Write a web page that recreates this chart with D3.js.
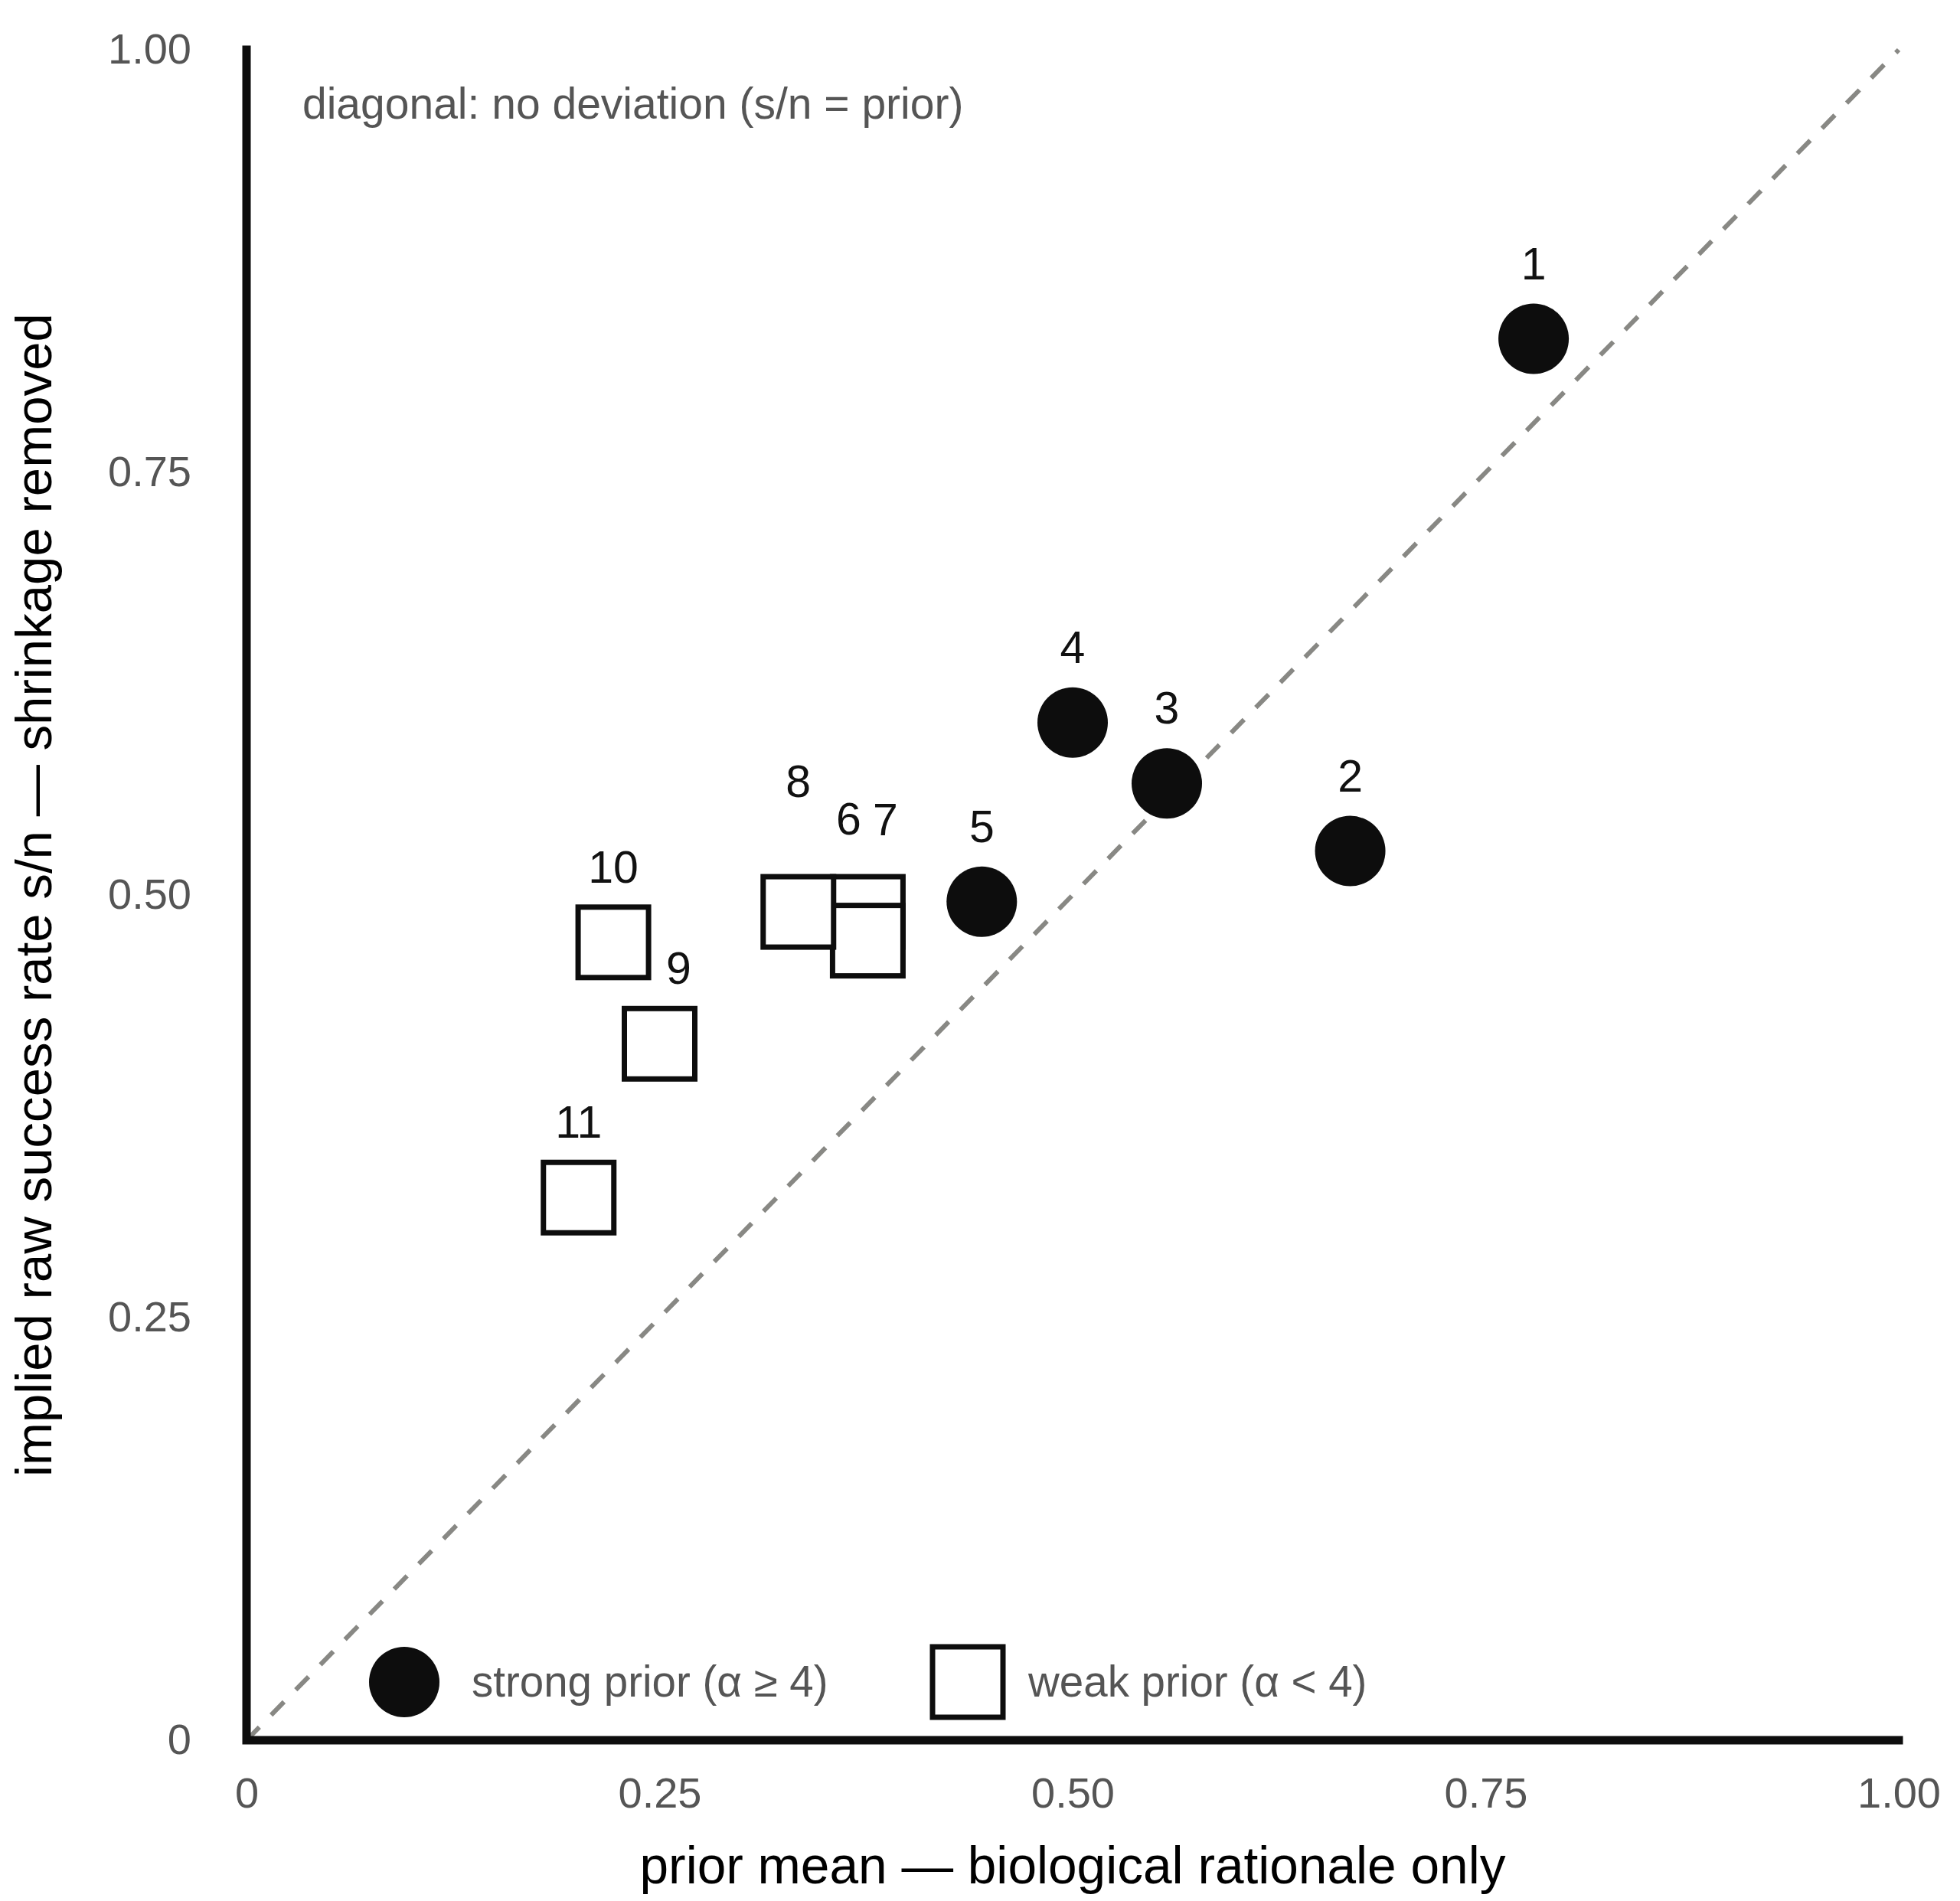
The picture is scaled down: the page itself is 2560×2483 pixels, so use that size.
<!DOCTYPE html>
<html>
<head>
<meta charset="utf-8">
<script src="https://cdn.jsdelivr.net/npm/d3@7"></script>
<style>
  body { margin: 0; background: #fff; }
  text { font-family: "Liberation Sans", Arial, sans-serif; }
</style>
</head>
<body>
<svg width="2560" height="2483"></svg>
<script>
// one entry per candidate
var ids = ["1", "2", "3", "4", "5", "6", "7", "8", "9", "10", "11"];
var priorMean = [0.779, 0.668, 0.557, 0.500, 0.445, 0.376, 0.376, 0.334, 0.250, 0.222, 0.201];
var rawRate = [0.829, 0.526, 0.566, 0.602, 0.496, 0.490, 0.473, 0.490, 0.412, 0.472, 0.321];
var priorStrength = ["strong", "strong", "strong", "strong", "strong", "weak", "weak", "weak", "weak", "weak", "weak"];
var tickValues = [0, 0.25, 0.5, 0.75, 1];
var tickLabels = ["0", "0.25", "0.50", "0.75", "1.00"];

// label nudges (px) so overlapping labels stay readable
var labelNudge = {"6": [-25, -23], "7": [23, -60], "8": [0, -72], "9": [25, 0]};

var svg = d3.select("svg"),
    margin = {top: 65, right: 80, bottom: 210, left: 322},
    width = svg.attr("width") - margin.left - margin.right,
    height = svg.attr("height") - margin.top - margin.bottom,
    g = svg.append("g").attr("transform", "translate(" + margin.left + "," + margin.top + ")");

var x = d3.scaleLinear().domain([0, 1]).range([0, width]),
    y = d3.scaleLinear().domain([0, 1]).range([height, 0]);

var data = ids.map(function(id, i) {
  return {id: id, prior: priorMean[i], raw: rawRate[i], strength: priorStrength[i]};
});

var grey = "#555",
    ink = "#0d0d0d",
    r = 46,
    side = 92;

// tick labels only, no tick marks
g.append("g")
    .attr("transform", "translate(0," + height + ")")
    .call(d3.axisBottom(x).tickValues(tickValues).tickSize(0).tickPadding(48)
      .tickFormat(function(d, i) { return tickLabels[i]; }))
    .call(function(a) {
      a.select(".domain").remove();
      a.selectAll("text").attr("font-size", 56).attr("fill", grey)
        .attr("font-family", "Liberation Sans, Arial, sans-serif");
    });

g.append("g")
    .call(d3.axisLeft(y).tickValues(tickValues).tickSize(0).tickPadding(72)
      .tickFormat(function(d, i) { return tickLabels[i]; }))
    .call(function(a) {
      a.select(".domain").remove();
      a.selectAll("text").attr("font-size", 56).attr("fill", grey)
        .attr("font-family", "Liberation Sans, Arial, sans-serif");
    });

// no-deviation diagonal
g.append("line")
    .attr("x1", x(0)).attr("y1", y(0))
    .attr("x2", x(1)).attr("y2", y(1))
    .attr("stroke", "#888884")
    .attr("stroke-width", 6)
    .attr("stroke-dasharray", "24,22");

// axes as one L shaped path
g.append("path")
    .attr("d", "M" + x(0) + "," + y(1) + "V" + y(0) + "H" + x(1))
    .attr("fill", "none")
    .attr("stroke", ink)
    .attr("stroke-width", 11)
    .attr("stroke-linecap", "square");

g.append("text")
    .attr("x", 73)
    .attr("y", 90)
    .attr("font-size", 57)
    .attr("fill", grey)
    .text("diagonal: no deviation (s/n = prior)");

var pts = g.selectAll(".pt")
  .data(data)
  .enter().append("g")
    .attr("class", "pt")
    .attr("transform", function(d) { return "translate(" + x(d.prior) + "," + y(d.raw) + ")"; });

pts.filter(function(d) { return d.strength == "strong"; })
  .append("circle")
    .attr("r", r)
    .attr("fill", ink);

pts.filter(function(d) { return d.strength == "weak"; })
  .append("rect")
    .attr("x", -side / 2).attr("y", -side / 2)
    .attr("width", side).attr("height", side)
    .attr("fill", "#fff")
    .attr("stroke", ink)
    .attr("stroke-width", 7);

g.selectAll(".lab")
  .data(data)
  .enter().append("text")
    .attr("class", "lab")
    .attr("x", function(d) { return x(d.prior) + (labelNudge[d.id] ? labelNudge[d.id][0] : 0); })
    .attr("y", function(d) { return y(d.raw) - 78 + (labelNudge[d.id] ? labelNudge[d.id][1] : 0); })
    .attr("text-anchor", "middle")
    .attr("font-family", "DejaVu Sans, sans-serif")
    .attr("font-size", 59)
    .attr("fill", "#111")
    .text(function(d) { return d.id; });

// legend
var legend = g.append("g").attr("transform", "translate(0," + (height - 76) + ")");
legend.append("circle").attr("cx", 206).attr("cy", 0).attr("r", r).attr("fill", ink);
legend.append("text").attr("x", 294).attr("y", 19).attr("font-size", 56.5).attr("fill", grey)
    .text("strong prior (α ≥ 4)");
legend.append("rect").attr("x", 942 - side / 2).attr("y", -side / 2).attr("width", side).attr("height", side)
    .attr("fill", "#fff").attr("stroke", ink).attr("stroke-width", 7);
legend.append("text").attr("x", 1021).attr("y", 19).attr("font-size", 56.5).attr("fill", grey)
    .text("weak prior (α < 4)");

// axis titles
svg.append("text")
    .attr("x", margin.left + width / 2)
    .attr("y", 2460)
    .attr("text-anchor", "middle")
    .attr("font-size", 67.6)
    .attr("fill", "#000")
    .text("prior mean — biological rationale only");

svg.append("text")
    .attr("transform", "translate(67," + (margin.top + height / 2) + ") rotate(-90)")
    .attr("text-anchor", "middle")
    .attr("font-size", 67.2)
    .attr("fill", "#000")
    .text("implied raw success rate s/n — shrinkage removed");
</script>
</body>
</html>
